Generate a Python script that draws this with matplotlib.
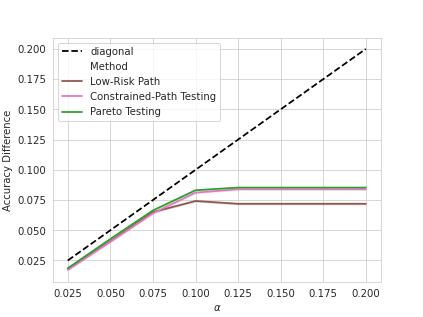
import matplotlib
matplotlib.use("Agg")
import matplotlib.pyplot as plt
import numpy as np
import seaborn as sns

sns.set_style("whitegrid")
plt.rcParams["font.size"] = 10.3

alpha = [0.025, 0.05, 0.075, 0.1, 0.125, 0.15, 0.175, 0.2]
low_risk = [0.0180, 0.0410, 0.0650, 0.0742, 0.0719, 0.0719, 0.0719, 0.0719]
constrained = [0.0172, 0.0405, 0.0640, 0.0811, 0.0839, 0.0839, 0.0839, 0.0839]
pareto = [0.0186, 0.0428, 0.0664, 0.0831, 0.0853, 0.0853, 0.0853, 0.0853]
band = 0.0009

fig, ax = plt.subplots(figsize=(6, 4.5), dpi=70.5)

diag, = ax.plot([alpha[0], alpha[-1]], [alpha[0], alpha[-1]], "k--", lw=1.8, label="diagonal")

# lines with a thin shaded band like seaborn's lineplot
handles = [diag]
for vals, col, name in [(low_risk, "#8c564b", "Low-Risk Path"),
                        (constrained, "#e377c2", "Constrained-Path Testing"),
                        (pareto, "#2ca02c", "Pareto Testing")]:
    vals = np.array(vals)
    ax.fill_between(alpha, vals - band, vals + band, color=col, alpha=0.2, lw=0)
    h, = ax.plot(alpha, vals, color=col, lw=1.8, label=name)
    handles.append(h)

title_h, = ax.plot([], [], color="none", label="Method")
handles.insert(1, title_h)
ax.legend(handles=handles, loc="upper left")

ax.set_xlabel(r"$\alpha$")
ax.set_ylabel("Accuracy Difference")
ax.set_xticks(alpha)

fig.savefig("out.png")
